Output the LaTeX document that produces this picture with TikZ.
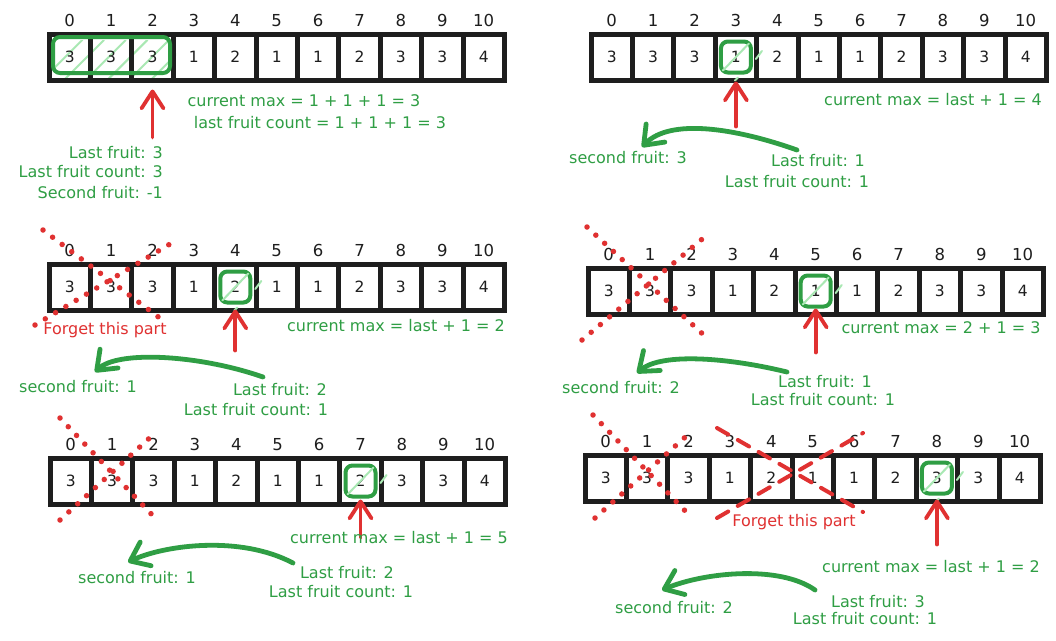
\documentclass[tikz,border=0pt]{standalone}
\usepackage{fontspec}
\setmainfont{DejaVu Sans}
\usetikzlibrary{arrows.meta}
\definecolor{exgreen}{HTML}{2F9E44}
\definecolor{exred}{HTML}{E03131}
\definecolor{exhatch}{HTML}{A9E8B3}
\definecolor{exblack}{HTML}{1E1E1E}
\newcommand\fruitrow[3]{%
  \foreach \v [count=\i from 0] in {3,3,3,1,2,1,1,2,3,3,4} {%
    \node[cellbox] (#1c\i) at ({#2+(\i+0.5)*41.4},{#3+23}) {\v};
    \node[idx] (#1i\i) at ({#2+(\i+0.5)*41.4},{#3-13.5}) {\i};
  }%
}
\begin{document}
\begin{tikzpicture}[x=1pt,y=-1pt,
  cellbox/.style={draw=exblack, line width=5pt, minimum width=41.4pt, minimum height=46pt, inner sep=0pt, font=\fontsize{15.5}{18}\selectfont, text=exblack},
  idx/.style={font=\fontsize{16.5}{19}\selectfont, text=exblack, inner sep=0pt},
  gtext/.style={text=exgreen, font=\fontsize{16}{19}\selectfont, inner sep=0pt},
  rtext/.style={text=exred, font=\fontsize{16}{19}\selectfont, inner sep=0pt},
  greensq/.style={draw=exgreen, line width=4pt, rounded corners=7pt, minimum width=30pt, minimum height=31pt, inner sep=0pt},
  hatch/.style={draw=exhatch, line width=2pt, line cap=round},
  redarrow/.style={draw=exred, line width=3.8pt, line cap=round, -{Straight Barb[round,length=17pt,width=22pt]}},
  greenarrow/.style={draw=exgreen, line width=4.8pt, line cap=round, -{Straight Barb[round,length=17pt,width=26pt]}},
  dotx/.style={draw=exred, line width=5.5pt, line cap=round, dash pattern=on 0pt off 12pt},
  dashx/.style={draw=exred, line width=4pt, line cap=round, dash pattern=on 13pt off 11pt}
]
\fill[white] (0,0) rectangle (1056,640);
\useasboundingbox (0,0) rectangle (1056,640);

% ---------- hatch of panel 1 (under the cells)
\begin{scope}
  \clip (53,40) rectangle (176,80);
  \foreach \x in {43.3,65,86.7,108.4,130,151.8} {
    \draw[hatch] (\x,79) -- ({\x+39},40);
  }
\end{scope}

% ---------- arrays
\fruitrow{pa}{49}{34}
\fruitrow{pb}{591}{34}
\fruitrow{pc}{49}{264}
\fruitrow{pd}{588}{268}
\fruitrow{pe}{50}{458}
\fruitrow{pf}{585}{455}

% ---------- green highlights
\node[greensq, minimum width=117pt, minimum height=36pt] (ga) at (111.5,55) {};
\foreach \g/\c in {gb/pbc3, gc/pcc4, gd/pdc5, ge/pec7, gf/pfc8} {
  \node[greensq] (\g) at (\c.center) {};
  \draw[hatch] ([shift={(4pt,4pt)}]\g.south west) -- ([shift={(-4pt,-4pt)}]\g.north east);
  \draw[hatch] ([shift={(3pt,-2pt)}]\g.east) -- ([shift={(9pt,6pt)}]\g.east);
  \draw[hatch] ([shift={(-1pt,-6pt)}]\g.south) -- ([shift={(2pt,-3pt)}]\g.south);
}

% ---------- red crossings
\draw[dotx] (43,230) -- (165,322);
\draw[dotx] (35,325) -- (175,241);
\draw[dotx] (587,227) -- (707,338);
\draw[dotx] (582,340) -- (707,235);
\draw[dotx] (60,418) -- (157,520);
\draw[dotx] (60,520) -- (155,433);
\draw[dotx] (593,415) -- (692,518);
\draw[dotx] (595,518) -- (692,431);
\draw[dashx] (717,428) -- (863,512);
\draw[dashx] (717,518) -- (863,433);

% ---------- red pointer arrows
\coordinate (ra) at ([yshift=-55pt]pac2.south);
\draw[redarrow] (ra) -- ([yshift=-7pt]pac2.south);
\coordinate (rb) at ([yshift=-44pt]pbc3.south);
\draw[redarrow] (rb) -- ([yshift=1pt]pbc3.south);
\coordinate (rc) at ([yshift=-38pt]pcc4.south);
\draw[redarrow] (rc) -- ([yshift=3pt]pcc4.south);
\coordinate (rd) at ([yshift=-36pt]pdc5.south);
\draw[redarrow] (rd) -- ([yshift=8pt]pdc5.south);
\coordinate (re) at ([yshift=-31pt]pec7.south);
\draw[redarrow] (re) -- ([yshift=7pt]pec7.south);
\coordinate (rf) at ([yshift=-41pt]pfc8.south);
\draw[redarrow] (rf) -- ([yshift=4pt]pfc8.south);

% ---------- panel 1 texts
\node[gtext] (cma) at (304,101) {current max = 1 + 1 + 1 = 3};
\node[gtext] (lca) at (320,123) {last fruit count = 1 + 1 + 1 = 3};
\node[gtext, anchor=east] (lfa) at (163,153) {Last fruit: 3};
\node[gtext, anchor=east] (lfca) at (163,172) {Last fruit count: 3};
\node[gtext, anchor=east] (sfa) at (163,193) {Second fruit: -1};

% ---------- panel 2 texts
\node[gtext] (cmb) at (933,100) {current max = last + 1 = 4};
\node[gtext] (sfb) at (628,158) {second fruit: 3};
\node[gtext] (lfb) at (818,161) {Last fruit: 1};
\node[gtext] (lfcb) at (797,182) {Last fruit count: 1};

% ---------- panel 3 texts
\node[rtext] (fgc) at (105,330) {Forget this part};
\node[gtext] (cmc) at (396,326) {current max = last + 1 = 2};
\node[gtext] (sfc) at (78,387) {second fruit: 1};
\node[gtext] (lfc) at (280,390) {Last fruit: 2};
\node[gtext] (lfcc) at (256,410) {Last fruit count: 1};

% ---------- panel 4 texts
\node[gtext] (cmd) at (941,328) {current max = 2 + 1 = 3};
\node[gtext] (sfd) at (621,388) {second fruit: 2};
\node[gtext] (lfd) at (825,382) {Last fruit: 1};
\node[gtext] (lfcd) at (823,400) {Last fruit count: 1};

% ---------- panel 5 texts
\node[gtext] (cme) at (399,538) {current max = last + 1 = 5};
\node[gtext] (sfe) at (137,578) {second fruit: 1};
\node[gtext] (lfe) at (347,573) {Last fruit: 2};
\node[gtext] (lfce) at (341,592) {Last fruit count: 1};

% ---------- panel 6 texts
\node[rtext] (fgf) at (794,522) {Forget this part};
\node[gtext] (cmf) at (931,567) {current max = last + 1 = 2};
\node[gtext] (sff) at (674,608) {second fruit: 2};
\node[gtext] (lff) at (878,602) {Last fruit: 3};
\node[gtext] (lfcf) at (865,619) {Last fruit count: 1};

% ---------- green curved arrows
\coordinate (gbs) at (797,150); \coordinate (gbe) at (642,147);
\draw[greenarrow] (gbs) .. controls (735,128) and (670,118) .. (gbe);
\coordinate (gcs) at (263,377); \coordinate (gce) at (95,372);
\draw[greenarrow] (gcs) .. controls (200,355) and (118,350) .. (gce);
\coordinate (gds) at (787,372); \coordinate (gde) at (637,373);
\draw[greenarrow] (gds) .. controls (730,358) and (662,352) .. (gde);
\coordinate (ges) at (293,563); \coordinate (gee) at (128,562);
\draw[greenarrow] (ges) .. controls (240,535) and (165,545) .. (gee);
\coordinate (gfs) at (815,590); \coordinate (gfe) at (662,590);
\draw[greenarrow] (gfs) .. controls (780,565) and (705,572) .. (gfe);
\end{tikzpicture}
\end{document}
